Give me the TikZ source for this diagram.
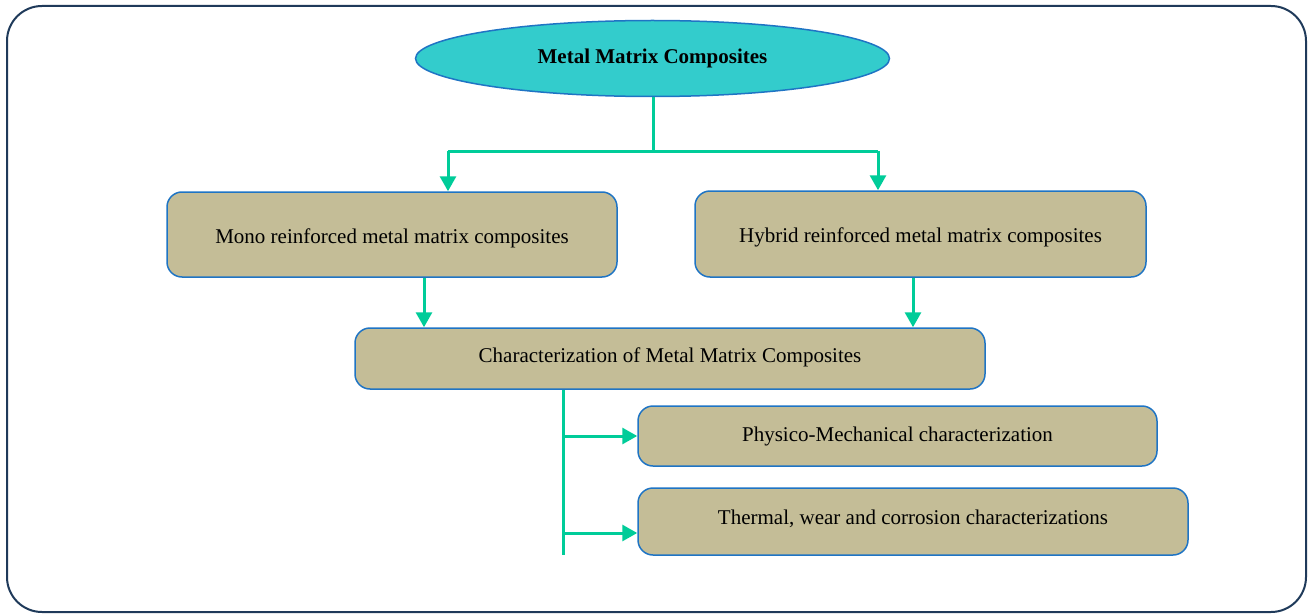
\documentclass[tikz,border=0pt]{standalone}
\usepackage{fontspec}
\setmainfont{Liberation Serif}
\usetikzlibrary{shapes.geometric,arrows.meta}
\definecolor{framec}{HTML}{1F3A5A}
\definecolor{ellfill}{HTML}{33CCCC}
\definecolor{bordc}{HTML}{1F74C4}
\definecolor{boxfill}{HTML}{C4BD97}
\definecolor{conc}{HTML}{00CC99}
\newcommand{\bl}[2]{\raisebox{-#1}[0pt][0pt]{#2}}
\tikzset{
  boxst/.style={draw=bordc, line width=1.5pt, fill=boxfill, rounded corners=15pt, inner sep=0pt, font=\fontsize{21}{25}\selectfont},
  ellst/.style={ellipse, draw=bordc, line width=1.5pt, fill=ellfill, inner sep=0pt, minimum width=474pt, minimum height=76pt, font=\fontsize{21}{25}\selectfont\bfseries},
  lnk/.style={draw=conc, line width=3pt},
  arr/.style={draw=conc, line width=3pt, -{Triangle[length=15pt,width=16pt]}}
}
\begin{document}
\begin{tikzpicture}[x=1pt,y=-1pt]
\useasboundingbox (0,0) rectangle (1308,615);
\draw[framec, line width=2pt, rounded corners=35pt] (7,6) rectangle (1306,612);
\node[ellst] (ell) at (652.5,58.5) {Metal Matrix Composites};
\node[boxst, minimum width=450pt, minimum height=85pt] (mono) at (392,234.5) {\bl{8.9pt}{Mono reinforced metal matrix composites}};
\node[boxst, minimum width=451pt, minimum height=86pt] (hyb) at (920.5,234) {\bl{8.4pt}{Hybrid reinforced metal matrix composites}};
\node[boxst, minimum width=630pt, minimum height=61pt] (char) at (670,358.5) {\bl{3.9pt}{Characterization of Metal Matrix Composites}};
\node[boxst, minimum width=519pt, minimum height=60pt] (phys) at (897.5,436) {\bl{5.4pt}{Physico-Mechanical characterization}};
\node[boxst, minimum width=550pt, minimum height=67pt] (therm) at (913,521.5) {\bl{2.9pt}{Thermal, wear and corrosion characterizations}};
% top connectors
\coordinate (jn) at (653,151);
\draw[lnk] (ell.south -| jn) -- (jn);
\coordinate (mtop) at (448,151);
\coordinate (htop) at (878,151);
\draw[lnk] (mtop) -- (htop);
\draw[arr] (mtop) -- (mtop |- mono.north);
\draw[arr] (htop) -- (htop |- hyb.north);
% to characterization
\coordinate (ms) at (424,277);
\coordinate (hs) at (913,277);
\draw[arr] (ms |- mono.south) -- (ms |- char.north);
\draw[arr] (hs |- hyb.south) -- (hs |- char.north);
% branches
\coordinate (cs) at (563,389);
\coordinate (cend) at (563,555);
\draw[lnk] (cs |- char.south) -- (cend);
\coordinate (b1) at (563,436);
\coordinate (b2) at (563,533);
\draw[arr] (b1) -- (b1 -| phys.west);
\draw[arr] (b2) -- (b2 -| therm.west);
\end{tikzpicture}
\end{document}
